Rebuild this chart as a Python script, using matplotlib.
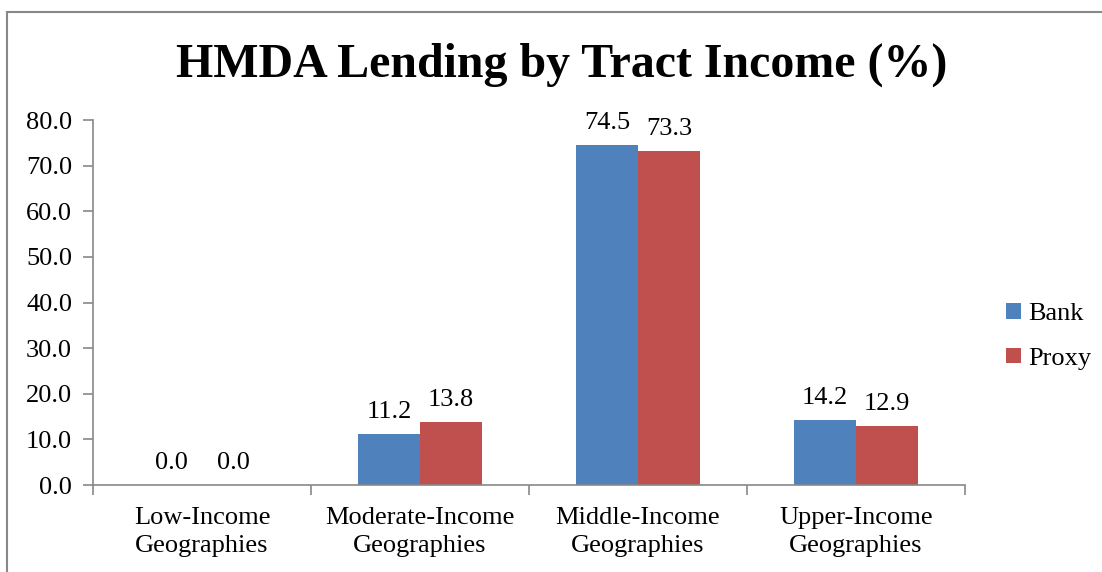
import matplotlib.pyplot as plt
import numpy as np
from matplotlib.patches import Rectangle

categories = ["Low-Income\nGeographies", "Moderate-Income\nGeographies",
              "Middle-Income\nGeographies", "Upper-Income\nGeographies"]
bank = [0.0, 11.2, 74.5, 14.2]
proxy = [0.0, 13.8, 73.3, 12.9]

plt.rcParams['font.family'] = ['Liberation Serif', 'DejaVu Serif']
fs = 19

fig = plt.figure(figsize=(11.02, 5.72), dpi=100)
ax = fig.add_axes([0.0844, 0.152, 0.7913, 0.638])

x = np.arange(len(categories))
w = 0.285
b1 = ax.bar(x - w / 2, bank, w, color='#4F81BD', label='Bank')
b2 = ax.bar(x + w / 2, proxy, w, color='#C0504D', label='Proxy')

for bars in (b1, b2):
    for r in bars:
        ax.text(r.get_x() + r.get_width() / 2, r.get_height() + 2.4,
                f"{r.get_height():.1f}", ha='center', va='bottom', fontsize=fs)

ax.set_xlim(-0.5, len(categories) - 0.5)
ax.set_ylim(0, 80)
ax.set_yticks(np.arange(0, 81, 10))
ax.set_yticklabels([f"{v:.1f}" for v in np.arange(0, 81, 10)], fontsize=fs)
ax.set_xticks(x)
ax.set_xticklabels(categories, fontsize=fs, linespacing=1.35)
ax.set_xticks(np.arange(-0.5, len(categories)), minor=True)
ax.tick_params(axis='x', which='major', length=0, pad=16)
ax.tick_params(axis='x', which='minor', length=7, color='#888888', width=1.2)
ax.tick_params(axis='y', length=7, color='#888888', width=1.2, pad=8)

for s in ('top', 'right'):
    ax.spines[s].set_visible(False)
for s in ('left', 'bottom'):
    ax.spines[s].set_color('#888888')
    ax.spines[s].set_linewidth(1.2)

fig.text(0.51, 0.887, "HMDA Lending by Tract Income (%)", ha='center', va='center',
         fontsize=34.5, fontweight='bold')

fig.legend(handles=[b1, b2], loc='center left', bbox_to_anchor=(0.913, 0.412),
           frameon=False, fontsize=fs, handlelength=0.55, handleheight=0.55,
           handletextpad=0.3, labelspacing=0.85, borderpad=0, borderaxespad=0)

# outer chart border
fig.patches.append(Rectangle((7 / 1102, -0.1), 1.2, 1.1 - 12 / 572,
                             transform=fig.transFigure, fill=False,
                             edgecolor='#888888', linewidth=1.5))

fig.savefig("out.png", dpi=100)
